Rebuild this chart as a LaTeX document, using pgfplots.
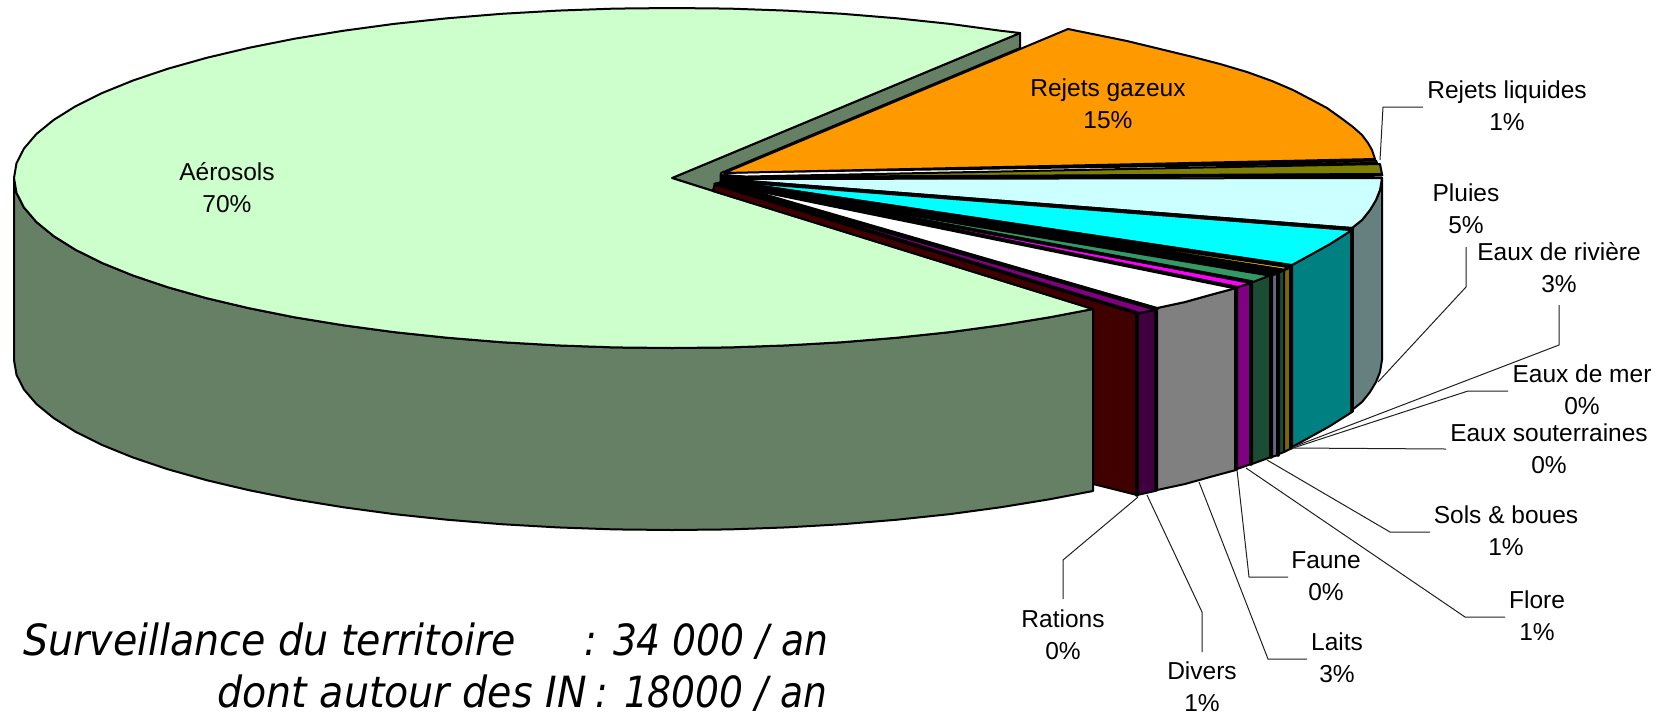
\documentclass[border=0pt]{standalone}
\usepackage{fontspec}
\setmainfont{Liberation Sans}
\newfontfamily\captionfont[FakeStretch=0.92]{DejaVu Sans}
\newfontfamily\totalfont[FakeStretch=0.875]{DejaVu Sans}
\usepackage{pgfplots}
\pgfplotsset{compat=1.18}
% Slice colours: top face and its darker side wall
\definecolor{aeroTop}{HTML}{CCFFCC}
\definecolor{aeroWall}{HTML}{668066}
\definecolor{orangeTop}{HTML}{FF9900}
\definecolor{brownTop}{HTML}{804000}
\definecolor{oliveTop}{HTML}{808000}
\definecolor{paleTop}{HTML}{CCFFFF}
\definecolor{paleWall}{HTML}{668080}
\definecolor{cyanTop}{HTML}{00FFFF}
\definecolor{cyanWall}{HTML}{008080}
\definecolor{goldTop}{HTML}{FFCC00}
\definecolor{goldWall}{HTML}{806600}
\definecolor{seaTop}{HTML}{339966}
\definecolor{seaWall}{HTML}{1A4D33}
\definecolor{lavTop}{HTML}{CCCCFF}
\definecolor{lavWall}{HTML}{666680}
\definecolor{magTop}{HTML}{FF00FF}
\definecolor{magWall}{HTML}{800080}
\definecolor{whiteWall}{HTML}{808080}
\definecolor{purpWall}{HTML}{400040}
\definecolor{marWall}{HTML}{400000}
\definecolor{leader}{HTML}{202020}
\begin{document}
\begin{tikzpicture}[
  lab/.style={font=\fontsize{12.25}{16}\selectfont,align=center,inner sep=0pt,text=black},
  big/.style={font=\captionfont\itshape\fontsize{21.5}{26}\selectfont,inner sep=0pt,anchor=base west},
  tot/.style={font=\totalfont\itshape\fontsize{21.5}{26}\selectfont,inner sep=0pt,anchor=base west}]
\begin{axis}[
  at={(0,0)}, anchor=south west,
  scale only axis, width=832pt, height=357pt,
  xmin=0, xmax=1664, ymin=0, ymax=714, y dir=reverse,
  hide axis, clip=false,
  edge/.style={draw=black,line width=1pt,line join=round},
  thin slice/.style={draw=black,line width=1.4pt,line join=round},
  sep/.style={draw=black,line width=1.8pt,line join=round,line cap=round},
  lead/.style={draw=leader,line width=0.5pt,line join=miter}]

% Page frame: the hidden axis adds nothing to the bounding box by itself
\path (0,0) rectangle (1664,714);

% Inner face of the large slice, seen through the gap
\addplot[edge,fill=aeroWall] coordinates {(672,178)(1020,33)(1020,48)(721,173)(721,182)(715,184)(713,191)} -- cycle;

% Outer wall of the large slice
\addplot[edge,fill=aeroWall] coordinates {
 (14,178)(14,360)(16.5,374.8)(24,389.5)(36.4,404)(53.7,418.1)(75.6,431.8)(102.2,445)(133,457.5)(168,469.3)
 (206.7,480.2)(249,490.2)(294.6,499.3)(343,507.2)(393.9,514.1)(447,519.7)(501.7,524.2)(557.8,527.4)(614.6,529.4)
 (672,530)(729.4,529.4)(786.2,527.4)(842.3,524.2)(897,519.7)(950.1,514.1)(1001,507.2)(1049.4,499.3)(1093,491)
 (1093,309)(1049.4,317.3)(1001,325.2)(950.1,332.1)(897,337.7)(842.3,342.2)(786.2,345.4)(729.4,347.4)(672,348)
 (614.6,347.4)(557.8,345.4)(501.7,342.2)(447,337.7)(393.9,332.1)(343,325.2)(294.6,317.3)(249,308.2)(206.7,298.2)
 (168,287.3)(133,275.5)(102.2,263)(75.6,249.8)(53.7,236.1)(36.4,222)(24,207.5)(16.5,192.8)} -- cycle;

% Top face of the large slice
\addplot[edge,fill=aeroTop] coordinates {
 (672,178)(1020,33)(1001,30.8)(950.1,23.9)(897,18.3)(842.3,13.8)(786.2,10.6)(729.4,8.6)(672,8)(614.6,8.6)(557.8,10.6)
 (501.7,13.8)(447,18.3)(393.9,23.9)(343,30.8)(294.6,38.7)(249,47.8)(206.7,57.8)(168,68.7)(133,80.5)(102.2,93)
 (75.6,106.2)(53.7,119.9)(36.4,134)(24,148.5)(16.5,163.2)(14,178)(16.5,192.8)(24,207.5)(36.4,222)(53.7,236.1)
 (75.6,249.8)(102.2,263)(133,275.5)(168,287.3)(206.7,298.2)(249,308.2)(294.6,317.3)(343,325.2)(393.9,332.1)
 (447,337.7)(501.7,342.2)(557.8,345.4)(614.6,347.4)(672,348)(729.4,347.4)(786.2,345.4)(842.3,342.2)(897,337.7)
 (950.1,332.1)(1001,325.2)(1049.4,317.3)(1093,309)(713,191)} -- cycle;

% Radial wall of the slice next to the large one
\addplot[edge,fill=marWall] coordinates {(713,191)(715,184)(1137,313)(1137,495)(1093,484)(1093,309)} -- cycle;

% Side walls of the small slices
\addplot[edge,fill=purpWall] coordinates {(1137,313)(1155,310)(1155,491)(1137,495)} -- cycle;
\addplot[edge,fill=whiteWall] coordinates {(1157,308)(1185,302)(1210,295)(1236,288)(1236,470)(1210,477)(1185,484)(1157,490)} -- cycle;
\addplot[edge,fill=magWall] coordinates {(1237,287)(1251,283)(1251,464)(1237,469)} -- cycle;
\addplot[edge,fill=seaWall] coordinates {(1252,282)(1271,275)(1271,457)(1252,464)} -- cycle;
\addplot[edge,fill=lavWall] coordinates {(1272,275)(1278,273)(1278,455)(1272,457)} -- cycle;
\addplot[edge,fill=seaWall] coordinates {(1279,272)(1284,270)(1284,452)(1279,454)} -- cycle;
\addplot[edge,fill=goldWall] coordinates {(1284,270)(1290,267)(1290,449)(1284,452)} -- cycle;
\addplot[edge,fill=cyanWall] coordinates {(1292,265)(1312,254)(1330,244)(1352,230)(1352,412)(1330,426)(1312,436)(1292,447)} -- cycle;
\addplot[edge,fill=paleWall] coordinates {(1352,228)(1362,220)(1370,210)(1376,200)(1380,190)(1382,178)(1382,360)(1380,372)(1376,382)(1370,392)(1362,402)(1352,410)} -- cycle;

% Thick edges between the walls
\addplot[sep] coordinates {(1137,313)(1137,495)};
\addplot[sep] coordinates {(1156,310)(1156,490)};
\addplot[sep] coordinates {(1236,288)(1236,469)};
\addplot[sep] coordinates {(1251,283)(1251,464)};
\addplot[sep] coordinates {(1271,275)(1271,457)};
\addplot[sep] coordinates {(1278,273)(1278,455)};
\addplot[sep] coordinates {(1291,266)(1291,448)};
\addplot[sep] coordinates {(1352,229)(1352,411)};

% Top faces of the small slices, from the bottom up
\addplot[edge,fill=magWall] coordinates {(720,184)(1138,313)(1156,310)} -- cycle;
\addplot[edge,fill=white] coordinates {(722,182)(1157,308)(1185,302)(1210,295)(1236,288)} -- cycle;
\addplot[edge,fill=magTop] coordinates {(722,182)(1238,287)(1251,283)} -- cycle;
\addplot[edge,fill=seaTop] coordinates {(722,182)(1253,282)(1271,275)} -- cycle;
\addplot[thin slice,fill=lavTop] coordinates {(722,182)(1272,275)(1278,273)} -- cycle;
\addplot[thin slice,fill=seaTop] coordinates {(722,182)(1279,272)(1284,270)} -- cycle;
\addplot[thin slice,fill=goldTop] coordinates {(722,182)(1284,270)(1290,267)} -- cycle;
\addplot[edge,fill=cyanTop] coordinates {(722,180)(1292,265)(1312,254)(1330,244)(1352,230)} -- cycle;
\addplot[edge,fill=paleTop] coordinates {(722,179)(1352,228)(1362,220)(1370,210)(1376,200)(1380,190)(1382,178)} -- cycle;
\addplot[edge,fill=oliveTop] coordinates {(722,177)(1382,174)(1380,164)} -- cycle;
\addplot[edge,fill=brownTop] coordinates {(724,172.5)(1377,163)(1376,160.5)} -- cycle;
\addplot[edge,fill=orangeTop] coordinates {(724,173)(1068,29)(1127,41)(1160,49)(1193,57)(1220,64)(1247,72)(1272,81)(1293,90)(1312,100)(1327,108)(1341,118)(1353,127)(1362,135)(1368,143)(1372,150)(1375,159)} -- cycle;

% Thick radial edges
\addplot[sep,line width=2pt] coordinates {(722,180)(1352,229)};
\addplot[sep,line width=1.7pt] coordinates {(722,178.4)(1382,175)};
\addplot[sep] coordinates {(722,181)(1291,266)};
\addplot[sep] coordinates {(722,183)(1271,275)};
\addplot[sep] coordinates {(722,183)(1252,282)};
\addplot[sep] coordinates {(722,183)(1237,288)};
\addplot[sep] coordinates {(720,184)(1157,309)};
\addplot[sep] coordinates {(715,184)(1137,313)};

% Where the thin slices meet, their outlines close up into solid black
\addplot[draw=black,fill=black] coordinates {(720,174)(745,176)(752,179)(755,184)(745,189)(720,184)} -- cycle;

% Leader lines
\addplot[lead] coordinates {(1423,107)(1383,107)(1380,160)};
\addplot[lead] coordinates {(1466,247)(1466,287)(1378,382)};
\addplot[lead] coordinates {(1559,305)(1559,345)(1293,447)};
\addplot[lead] coordinates {(1508,391)(1468,391)(1293,448)};
\addplot[lead] coordinates {(1446,449)(1293,448)};
\addplot[lead] coordinates {(1430,532)(1390,532)(1267,460)};
\addplot[lead] coordinates {(1505,617)(1465,617)(1246,468)};
\addplot[lead] coordinates {(1288,577)(1249,577)(1237,470)};
\addplot[lead] coordinates {(1307,659)(1268,659)(1199,482)};
\addplot[lead] coordinates {(1202,652)(1202,612)(1147,495)};
\addplot[lead] coordinates {(1063,599)(1063,560)(1138,497)};

% Slice labels
\node[lab] at (227,188) {Aérosols\\70\%};
\node[lab] at (1108,104) {Rejets gazeux\\15\%};
\node[lab] at (1507,106) {Rejets liquides\\1\%};
\node[lab] at (1466,209) {Pluies\\5\%};
\node[lab] at (1559,268) {Eaux de rivière\\3\%};
\node[lab] at (1582,390) {Eaux de mer\\0\%};
\node[lab] at (1549,449) {Eaux souterraines\\0\%};
\node[lab] at (1506,531) {Sols \& boues\\1\%};
\node[lab] at (1537,616) {Flore\\1\%};
\node[lab] at (1326,576) {Faune\\0\%};
\node[lab] at (1337,658) {Laits\\3\%};
\node[lab] at (1202,687) {Divers\\1\%};
\node[lab] at (1063,635) {Rations\\0\%};

% Annual totals
\node[big] at (23,655) {Surveillance du territoire};
\node[tot] at (584,655) {: 34 000 / an};
\node[big] at (217,707) {dont autour des IN};
\node[tot] at (595,707) {: 18000 / an};
\end{axis}
\end{tikzpicture}
\end{document}
